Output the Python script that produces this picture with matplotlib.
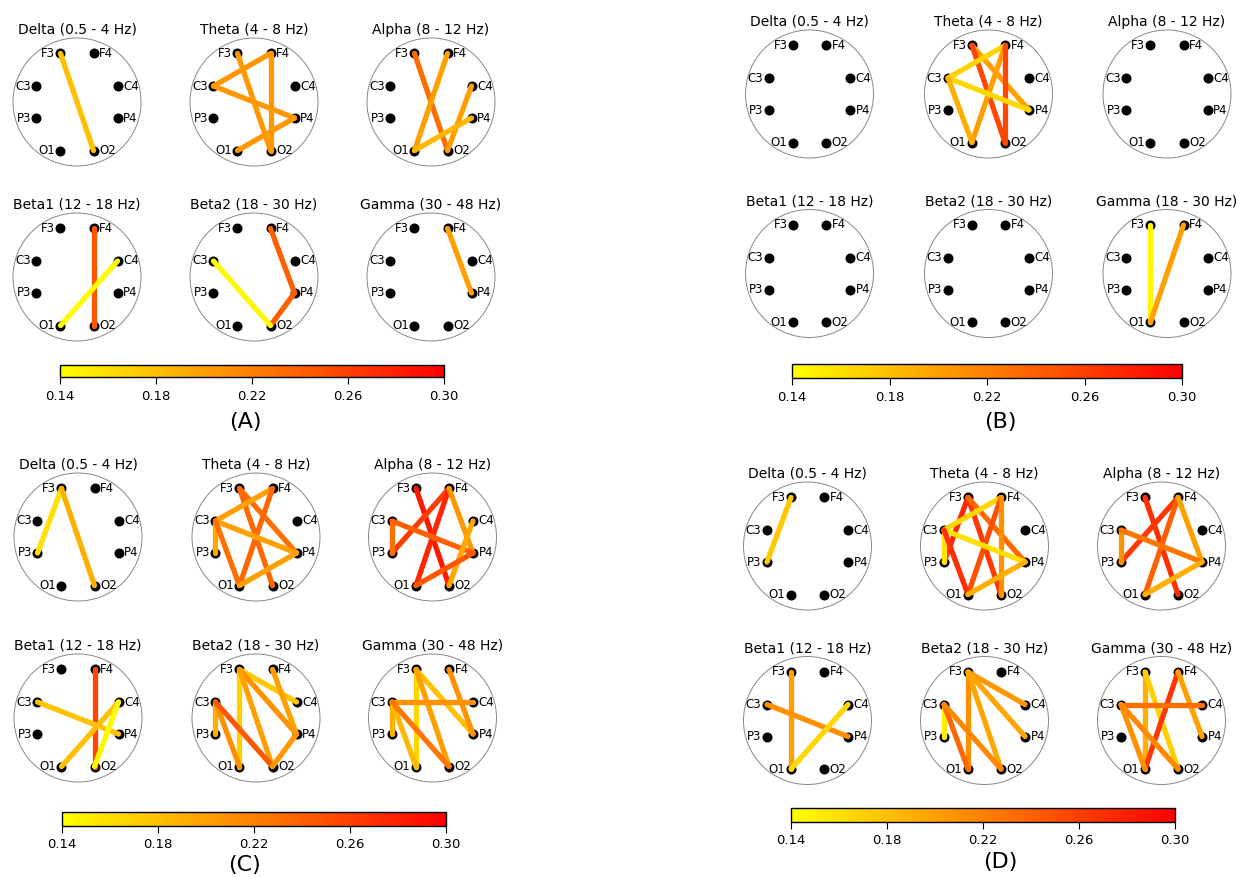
import matplotlib
matplotlib.use("Agg")
import matplotlib.pyplot as plt
import matplotlib as mpl
import numpy as np

# ---------------- data ----------------
electrodes = ["F3", "F4", "C3", "C4", "P3", "P4", "O1", "O2"]
elec_x = [-0.258, 0.258, -0.633, 0.633, -0.633, 0.633, -0.258, 0.258]
elec_y = [0.758, 0.758, 0.25, 0.25, -0.25, -0.25, -0.758, -0.758]

bands = ["delta", "theta", "alpha", "beta1", "beta2", "gamma"]
titles_std = ["Delta (0.5 - 4 Hz)", "Theta (4 - 8 Hz)", "Alpha (8 - 12 Hz)",
              "Beta1 (12 - 18 Hz)", "Beta2 (18 - 30 Hz)", "Gamma (30 - 48 Hz)"]
titles_B = ["Delta (0.5 - 4 Hz)", "Theta (4 - 8 Hz)", "Alpha (8 - 12 Hz)",
            "Beta1 (12 - 18 Hz)", "Beta2 (18 - 30 Hz)", "Gamma (18 - 30 Hz)"]

cbar_ticks = [0.14, 0.18, 0.22, 0.26, 0.30]
vmin, vmax = 0.14, 0.30

conn_A = {
    "delta": [("F3", "O2", 0.18)],
    "theta": [("F3", "O2", 0.205), ("F4", "C3", 0.205), ("F4", "O2", 0.205),
              ("C3", "P4", 0.205), ("O1", "P4", 0.205)],
    "alpha": [("F3", "O2", 0.232), ("F4", "O1", 0.2), ("C4", "O2", 0.2), ("P4", "O1", 0.185)],
    "beta1": [("F4", "O2", 0.245), ("C4", "O1", 0.143)],
    "beta2": [("F4", "P4", 0.24), ("P4", "O2", 0.24), ("C3", "O2", 0.145)],
    "gamma": [("F4", "P4", 0.2)],
}
conn_B = {
    "delta": [],
    "theta": [("F3", "P4", 0.2), ("F3", "O2", 0.255), ("F4", "C3", 0.168), ("F4", "O1", 0.2),
              ("F4", "O2", 0.255), ("C3", "P4", 0.165), ("C3", "O1", 0.19)],
    "alpha": [],
    "beta1": [],
    "beta2": [],
    "gamma": [("F3", "O1", 0.145), ("F4", "O1", 0.2)],
}
conn_C = {
    "delta": [("F3", "P3", 0.16), ("F3", "O2", 0.19)],
    "theta": [("F3", "P4", 0.23), ("F3", "O2", 0.235), ("F4", "C3", 0.2), ("F4", "O1", 0.235),
              ("C3", "P3", 0.195), ("C3", "P4", 0.2), ("C3", "O1", 0.23), ("O1", "P4", 0.2)],
    "alpha": [("F3", "O2", 0.285), ("F4", "P3", 0.262), ("F4", "O1", 0.275), ("F4", "P4", 0.205),
              ("C3", "P3", 0.23), ("C3", "P4", 0.24), ("C4", "O2", 0.195), ("O1", "P4", 0.245)],
    "beta1": [("F4", "O2", 0.255), ("C3", "P4", 0.178), ("C4", "O1", 0.18), ("C4", "O2", 0.145)],
    "beta2": [("F3", "O1", 0.17), ("F3", "C4", 0.175), ("F3", "P4", 0.21), ("F3", "O2", 0.2),
              ("F4", "P4", 0.2), ("C3", "P3", 0.19), ("C3", "O1", 0.21), ("C3", "O2", 0.245),
              ("P4", "O2", 0.205)],
    "gamma": [("F3", "O1", 0.165), ("F3", "P4", 0.18), ("F3", "O2", 0.2), ("F4", "P4", 0.21),
              ("C3", "C4", 0.21), ("C3", "P3", 0.19), ("C3", "O1", 0.185), ("C3", "O2", 0.225)],
}
conn_D = {
    "delta": [("F3", "P3", 0.175)],
    "theta": [("F3", "P3", 0.275), ("F3", "O2", 0.265), ("F3", "P4", 0.235), ("F4", "C3", 0.165),
              ("F4", "O1", 0.25), ("F4", "O2", 0.21), ("C3", "P3", 0.158), ("C3", "P4", 0.16),
              ("C3", "O1", 0.27), ("O1", "P4", 0.19)],
    "alpha": [("F3", "O2", 0.27), ("F4", "P3", 0.265), ("F4", "O1", 0.24), ("F4", "P4", 0.2),
              ("C3", "P3", 0.21), ("C3", "P4", 0.225), ("O1", "P4", 0.19)],
    "beta1": [("F3", "O1", 0.2), ("C3", "P4", 0.21), ("C4", "O1", 0.165)],
    "beta2": [("F3", "C4", 0.205), ("F3", "P4", 0.195), ("F3", "O1", 0.21), ("F3", "O2", 0.195),
              ("C3", "P3", 0.15), ("C3", "O1", 0.235), ("C3", "O2", 0.215)],
    "gamma": [("F3", "O1", 0.19), ("F3", "O2", 0.17), ("F4", "O1", 0.265), ("F4", "P4", 0.2),
              ("C3", "C4", 0.23), ("C3", "O1", 0.21), ("C3", "O2", 0.215)],
}

panel_labels = ["(A)", "(B)", "(C)", "(D)"]

# ---------------- layout (pixels) ----------------
W, H = 1245, 877
R = 64
layout = [
    dict(conn=conn_A, titles=titles_std, cols=[77, 254, 431], rows=[102, 277],
         cbar=(60, 365, 444, 377), lab=(245, 422)),
    dict(conn=conn_B, titles=titles_B, cols=[809.5, 988.5, 1167], rows=[94, 273.5],
         cbar=(792, 364, 1182, 378), lab=(1000, 422)),
    dict(conn=conn_C, titles=titles_std, cols=[78, 256, 432.5], rows=[537, 718],
         cbar=(62, 812, 446, 826), lab=(245, 865)),
    dict(conn=conn_D, titles=titles_std, cols=[807.5, 984.5, 1161.5], rows=[546, 720.5],
         cbar=(791, 808, 1175, 822), lab=(1000, 862)),
]

cmap = plt.get_cmap("autumn_r")
norm = mpl.colors.Normalize(vmin=vmin, vmax=vmax)

fig = plt.figure(figsize=(W / 100, H / 100), dpi=100)

pos = {e: (x, y) for e, x, y in zip(electrodes, elec_x, elec_y)}

for p, lay in enumerate(layout):
    for i, band in enumerate(bands):
        cx = lay["cols"][i % 3]
        cy = lay["rows"][i // 3]
        ax = fig.add_axes([(cx - R) / W, 1 - (cy + R) / H, 2 * R / W, 2 * R / H])
        ax.set_xlim(-1, 1)
        ax.set_ylim(-1, 1)
        ax.axis("off")
        circ = plt.Circle((0, 0), 1.0, fill=False, color="#888888", lw=0.7, clip_on=False)
        ax.add_patch(circ)
        ax.plot(elec_x, elec_y, "o", color="black", ms=6.2, zorder=2, clip_on=False)
        for e, x, y in zip(electrodes, elec_x, elec_y):
            left = x < 0
            ax.annotate(e, (x, y), xytext=(-4 if left else 4, 0), textcoords="offset points",
                        ha="right" if left else "left", va="center", fontsize=8.5)
        for a, b, v in lay["conn"][band]:
            ax.plot([pos[a][0], pos[b][0]], [pos[a][1], pos[b][1]], color=cmap(norm(v)),
                    lw=3.8, solid_capstyle="round", zorder=3, clip_on=False)
        ax.set_title(lay["titles"][i], fontsize=10, pad=3)
    x0, y0, x1, y1 = lay["cbar"]
    cax = fig.add_axes([x0 / W, 1 - y1 / H, (x1 - x0) / W, (y1 - y0) / H])
    cb = fig.colorbar(mpl.cm.ScalarMappable(norm=norm, cmap=cmap), cax=cax,
                      orientation="horizontal", ticks=cbar_ticks, format="%.2f")
    cb.ax.tick_params(labelsize=9.5, length=5, pad=4)
    cb.outline.set_linewidth(1.0)
    fig.text(lay["lab"][0] / W, 1 - lay["lab"][1] / H, panel_labels[p], ha="center",
             va="center", fontsize=16)

fig.savefig("out.png", dpi=100)
